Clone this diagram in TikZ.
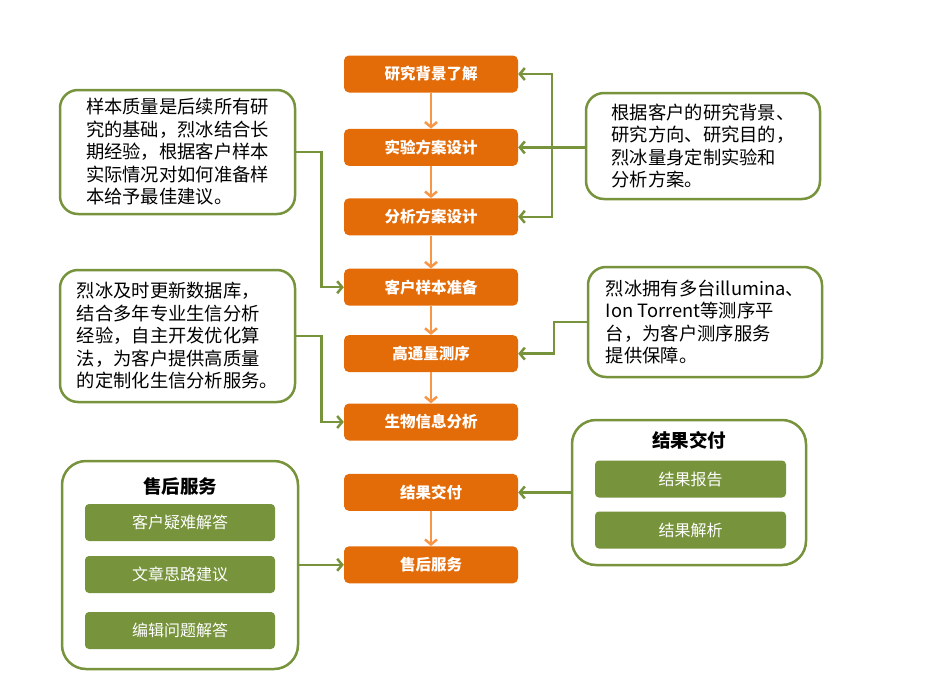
\documentclass[tikz,border=0pt]{standalone}
\usepackage{fontspec}
\setmainfont{Noto Sans CJK SC}
\usepackage{xcolor}
\definecolor{LeOrange}{HTML}{E36C09}
\definecolor{LeLight}{HTML}{F79646}
\definecolor{LeGreen}{HTML}{77933C}
\usepackage{tikz}
\usetikzlibrary{arrows.meta}
\usetikzlibrary{positioning}

\begin{document}
\begin{tikzpicture}
          [x=1pt, y=-1pt, node distance=32pt,
           flow/.style={fill=LeOrange, rounded corners=5pt, minimum width=174pt, minimum height=37pt,
                        text=white, font=\fontsize{15.5}{18}\selectfont\bfseries},
           note/.style={draw=LeGreen, line width=2.5pt, rounded corners=18pt, fill=white, align=left,
                        font=\fontsize{18.3}{22.5}\selectfont},
           group/.style={draw=LeGreen, line width=2.5pt, rounded corners=24pt, fill=white},
           title/.style={font=\fontsize{18.5}{20}\selectfont\bfseries},
           sub/.style={fill=LeGreen, rounded corners=4pt, minimum height=37pt,
                       text=white, font=\fontsize{16}{18}\selectfont},
           oarrow/.style={draw=LeLight, line width=2.5pt, -{Straight Barb[length=5pt,width=12pt]}},
           garrow/.style={draw=LeGreen, line width=2.5pt, arrows={-Straight Barb[length=5pt,width=12pt]}}]
          \useasboundingbox (0,0) rectangle (927,699);

          \node (yj) [flow] at (431,74) {研究背景了解};
          \node (sy) [flow, below = 36pt of yj] {实验方案设计};
          \node (fx) [flow, below = 32pt of sy] {分析方案设计};
          \node (kh) [flow, below = 33pt of fx] {客户样本准备};
          \node (gt) [flow, below = 29pt of kh] {高通量测序};
          \node (sw) [flow, below = 31pt of gt] {生物信息分析};
          \node (jf) [flow, below = 33pt of sw] {结果交付};
          \node (sh) [flow, below = 35pt of jf] {售后服务};

          \node (n1) [note, minimum width=235pt, minimum height=124pt] at (177.5,152)
            {样本质量是后续所有研\\究的基础，烈冰结合长\\期经验，根据客户样本\\实际情况对如何准备样\\本给予最佳建议。};
          \node (n2) [note, minimum width=235pt, minimum height=132pt] at (177.5,336)
            {烈冰及时更新数据库，\\结合多年专业生信分析\\经验，自主开发优化算\\法，为客户提供高质量\\的定制化生信分析服务。};
          \node (n3) [note, minimum width=234pt, minimum height=106pt] at (703,146)
            {根据客户的研究背景、\\研究方向、研究目的，\\烈冰量身定制实验和\\分析方案。};
          \node (n4) [note, minimum width=234pt, minimum height=110pt] at (705,322)
            {烈冰拥有多台illumina、\\Ion Torrent等测序平\\台，为客户测序服务\\提供保障。};

          \node (jg) [group, minimum width=234pt, minimum height=145pt] at (689,492.5) {};
          \node (jt) [title] at (689,440) {结果交付};
          \node (bg) [sub, minimum width=191pt] at (690.5,479) {结果报告};
          \node (jx) [sub, minimum width=191pt] at (690.5,530) {结果解析};

          \node (sg) [group, minimum width=236pt, minimum height=208pt] at (180,565) {};
          \node (st) [title] at (180,486) {售后服务};
          \node (yn) [sub, minimum width=190pt] at (180,522.5) {客户疑难解答};
          \node (wz) [sub, minimum width=190pt] at (180,574.5) {文章思路建议};
          \node (bj) [sub, minimum width=190pt] at (180,630.5) {编辑问题解答};

          \draw[oarrow] (yj) -- (sy);
          \draw[oarrow] (sy) -- (fx);
          \draw[oarrow] (fx) -- (kh);
          \draw[oarrow] (kh) -- (gt);
          \draw[oarrow] (gt) -- (sw);
          \draw[oarrow] (jf) -- (sh);

          \draw[garrow, {Straight Barb[length=5pt,width=12pt]}-{Straight Barb[length=5pt,width=12pt]}]
            (yj.east) -- ++(34,0) |- (fx.east);
          \draw[garrow] (sy.east -| n3.west) -- (sy.east);
          \draw[garrow] (n1.east) -- ++(25,0) |- (kh.west);
          \draw[garrow] (n2.east) -- ++(25,0) |- (sw.west);
          \draw[garrow] (n4.west) -- ++(-33,0) |- (gt.east);
          \draw[garrow] (jf.east -| jg.west) -- (jf.east);
          \draw[garrow] (sh.west -| sg.east) -- (sh.west);

        \end{tikzpicture}
\end{document}
